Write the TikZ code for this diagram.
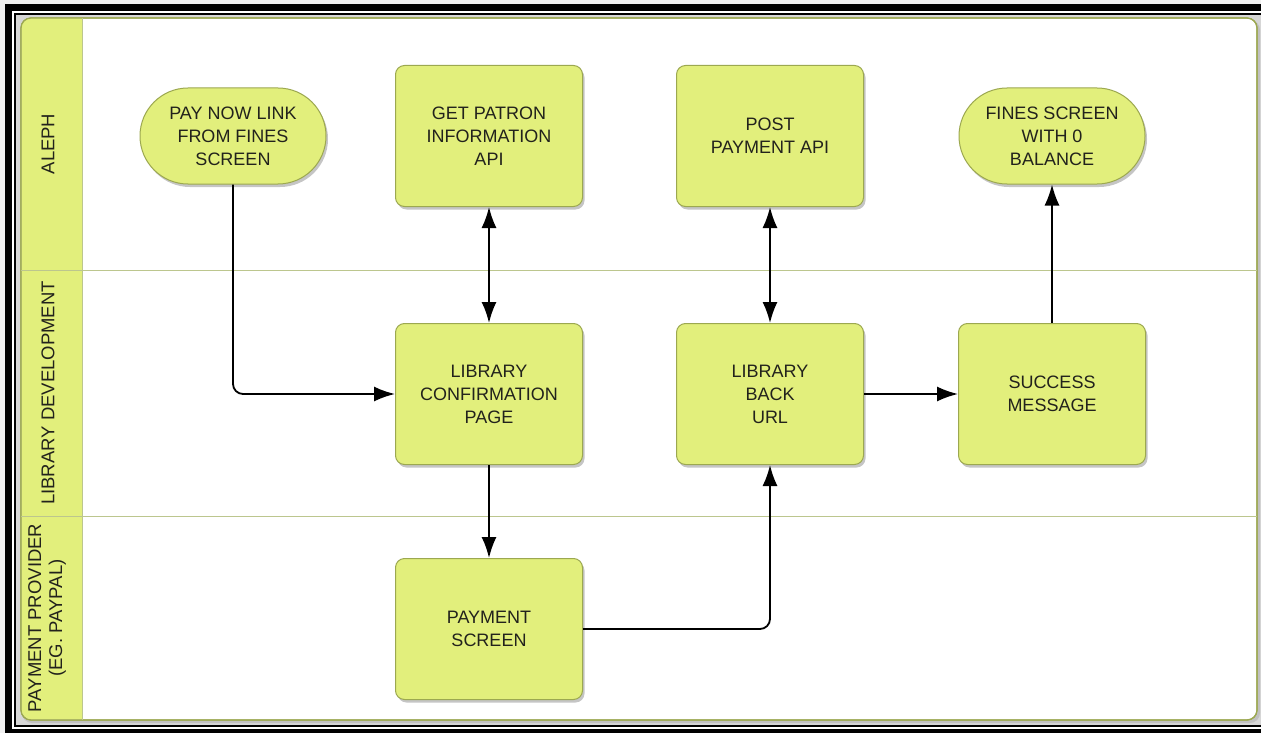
\documentclass[tikz,border=0pt]{standalone}
\usepackage{fontspec}
\setmainfont{Liberation Sans}
\usetikzlibrary{arrows.meta,shapes.misc,shadows}

\definecolor{boxfill}{RGB}{226,239,124}
\definecolor{boxline}{RGB}{156,168,80}
\definecolor{lanerule}{RGB}{188,198,142}
\definecolor{boxtext}{RGB}{34,34,28}
\definecolor{outergray}{RGB}{240,240,240}
\definecolor{innergray}{RGB}{214,214,214}
\newcommand{\boxfont}{\fontsize{18}{23}\selectfont}
\newcommand{\lanefont}{\fontsize{18.5}{21}\selectfont}

\tikzset{
	taskbox/.style={rectangle, rounded corners=9pt, draw=boxline, line width=1pt,
		fill=boxfill, text=boxtext, font=\boxfont, align=center, inner sep=0pt,
		minimum width=187pt, minimum height=141pt,
		drop shadow={shadow xshift=2pt, shadow yshift=-3pt, opacity=0.45}},
	endbox/.style={taskbox, rounded rectangle, sharp corners, minimum width=186pt, minimum height=96pt},
	lanelabel/.style={rotate=90, text=boxtext, font=\lanefont, align=center},
	tip/.tip={Latex[length=21pt,width=15pt]},
	flow/.style={line width=1.8pt, -tip},
	twoway/.style={line width=1.8pt, tip-tip},
}

\begin{document}
\begin{tikzpicture}[x=1pt,y=-1pt]
	\useasboundingbox (0,0) rectangle (1261,733);
	% frame
	\fill[outergray] (0,0) rectangle (1261,733);
	\fill[black] (5,4) rectangle (1275,745);
	\fill[white] (12,11) rectangle (1275,729);
	\fill[black] (14,13) rectangle (1275,727);
	\fill[innergray] (16,15) rectangle (1275,725);
	\fill[gray!60, opacity=0.6, rounded corners=10pt] (22,20) rectangle (1260,723);
	\filldraw[fill=white, draw=boxline, line width=1.2pt, rounded corners=10pt] (21,18) rectangle (1257,720);
	\fill[boxfill, rounded corners=10pt] (82,18) -- (21.6,18) -- (21.6,719.4) -- (82,719.4);
	\draw[boxline, line width=1.2pt, rounded corners=10pt] (21,18) rectangle (1257,720);
	\draw[lanerule, line width=1pt] (82,18) -- (82,720);
	\draw[lanerule, line width=1pt] (21,270) -- (1257,270);
	\draw[lanerule, line width=1pt] (21,516) -- (1257,516);

	% lanes
	\node[lanelabel] (aleph) at (48,144) {ALEPH};
	\node[lanelabel] (libdev) at (48,393) {LIBRARY DEVELOPMENT};
	\node[lanelabel] (provider) at (47,618) {PAYMENT PROVIDER\\(EG. PAYPAL)};

	% steps
	\node[endbox] (paynow) at (233,136) {PAY NOW LINK\\FROM FINES\\SCREEN};
	\node[taskbox] (patron) at (489,136) {GET PATRON\\INFORMATION\\API};
	\node[taskbox] (postpay) at (770,136) {POST\\PAYMENT API};
	\node[endbox] (finesdone) at (1052,136) {FINES SCREEN\\WITH 0\\BALANCE};
	\node[taskbox] (confirm) at (489,394) {LIBRARY\\CONFIRMATION\\PAGE};
	\node[taskbox] (backurl) at (770,394) {LIBRARY\\BACK\\URL};
	\node[taskbox] (success) at (1052,394) {SUCCESS\\MESSAGE};
	\node[taskbox] (payscreen) at (489,629) {PAYMENT\\SCREEN};

	% flows
	\draw[flow] (paynow.south) [rounded corners=10pt] |- (confirm.west) [sharp corners];
	\draw[twoway] (patron) -- (confirm);
	\draw[flow] (confirm) -- (payscreen);
	\draw[flow] (payscreen.east) [rounded corners=10pt] -| (backurl.south) [sharp corners];
	\draw[twoway] (postpay) -- (backurl);
	\draw[flow] (backurl) -- (success);
	\draw[flow] (success) -- (finesdone);
\end{tikzpicture}
\end{document}
